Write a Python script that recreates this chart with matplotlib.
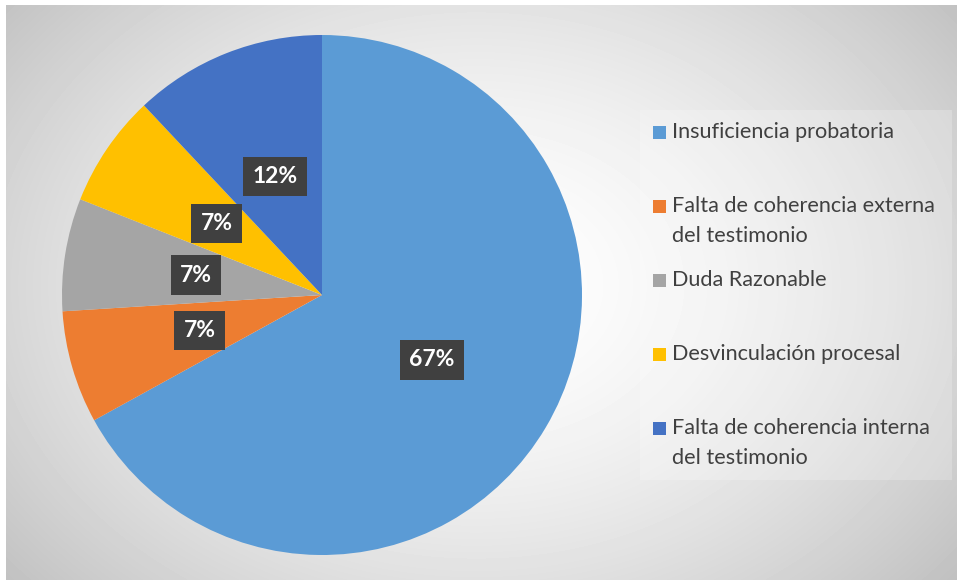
import matplotlib
matplotlib.use("Agg")
import matplotlib.pyplot as plt
from matplotlib.patches import Rectangle
import numpy as np

# data
categories = [
    "Insuficiencia probatoria",
    "Falta de coherencia externa\ndel testimonio",
    "Duda Razonable",
    "Desvinculación procesal",
    "Falta de coherencia interna\ndel testimonio",
]
shares = [67, 7, 7, 7, 12]
colors = ["#5B9BD5", "#ED7D31", "#A5A5A5", "#FFC000", "#4472C4"]

W, H = 957, 580
TEXT_C = "#404040"
FONT = "Lato"

fig = plt.figure(figsize=(W / 100, H / 100), dpi=100)
fig.patch.set_facecolor("white")

# ── background: radial grey gradient ─────────────────────────────────────
bg = fig.add_axes([6 / W, 0, (W - 6) / W, (H - 5) / H])
yy, xx = np.mgrid[0:575, 0:951]
r = np.hypot((xx - 470) / 560, (yy - 280) / 420)
shade = 1 - 0.21 * np.clip(r, 0, 1.3) ** 1.6
bg.imshow(shade, cmap="gray", vmin=0, vmax=1, aspect="auto", interpolation="bilinear")
bg.axis("off")

# ── pie ──────────────────────────────────────────────────────────────────
cx, cy, rad = 322, H - 295, 260
ax = fig.add_axes([(cx - rad) / W, (cy - rad) / H, 2 * rad / W, 2 * rad / H])
wedges, _, autotexts = ax.pie(
    shares, colors=colors, startangle=90, counterclock=False,
    autopct=lambda p: f"{p:.0f}%", pctdistance=0.49,
    textprops=dict(color="white", fontsize=16.5, fontweight="bold", family=FONT),
)
for t in autotexts:
    t.set_bbox(dict(boxstyle="square,pad=0.4", facecolor="#404040", edgecolor="none"))
ax.set_xlim(-1, 1)
ax.set_ylim(-1, 1)
ax.set_aspect("equal")
ax.axis("off")

# ── legend (manual, Excel-style spacing) ─────────────────────────────────
fig.patches.append(Rectangle((640 / W, 1 - 480 / H), 312 / W, 370 / H,
                             transform=fig.transFigure, facecolor="white",
                             alpha=0.22, edgecolor="none"))
y0, step, line_h = 132, 74, 29.5
for i, (lab, col) in enumerate(zip(categories, colors)):
    y = y0 + i * step
    fig.patches.append(Rectangle((653 / W, 1 - (y + 6.5) / H), 13 / W, 13 / H,
                                 transform=fig.transFigure, facecolor=col,
                                 edgecolor="none"))
    for j, line in enumerate(lab.split("\n")):
        fig.text(672 / W, 1 - (y + j * line_h) / H, line, ha="left", va="center",
                 fontsize=15.6, color=TEXT_C, family=FONT)

fig.savefig("out.png", dpi=100)
